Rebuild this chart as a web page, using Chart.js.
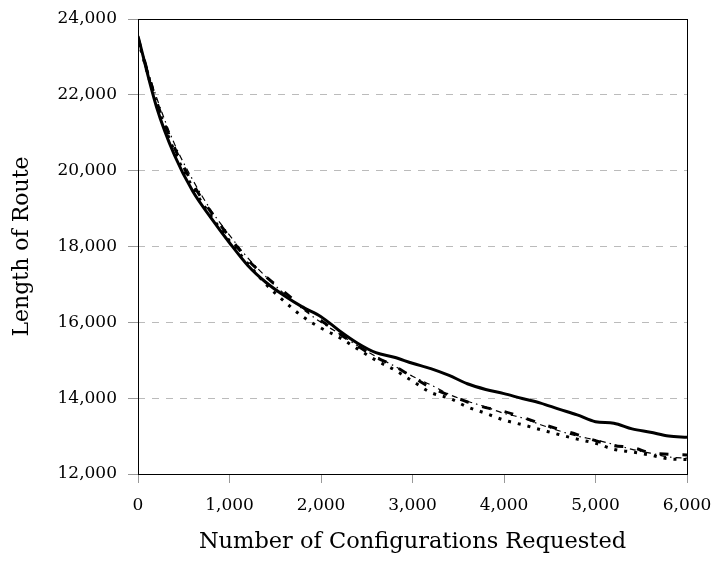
<!DOCTYPE html>
<html lang="en">
<head>
    <meta charset="UTF-8">
    <title>Length of Route</title>
    <script src="https://cdn.jsdelivr.net/npm/chart.js"></script>
    <style>
        body {
            margin: 0;
            padding: 0;
            background: #fff;
        }
        #wrap {
            width: 715px;
            height: 562px;
        }
    </style>
</head>
<body>
    <div id="wrap"><canvas id="chart" width="715" height="562"></canvas></div>

    <script>
        // x positions (configurations requested)
        const requested = [0, 200, 400, 600, 800, 1000, 1200, 1400, 1600, 1800, 2000,
            2200, 2400, 2600, 2800, 3000, 3200, 3400, 3600, 3800, 4000,
            4200, 4400, 4600, 4800, 5000, 5200, 5400, 5600, 5800, 6000];

        // route lengths
        const solidSeries = [23550, 21700, 20400, 19450, 18750, 18100, 17500, 17050, 16700, 16400, 16150,
            15780, 15450, 15200, 15080, 14920, 14780, 14600, 14380, 14230, 14120,
            13990, 13870, 13710, 13560, 13380, 13340, 13190, 13100, 13000, 12970];
        const dashedSeries = [23500, 21850, 20600, 19650, 18900, 18250, 17650, 17200, 16800, 16400, 16050,
            15700, 15380, 15080, 14850, 14560, 14280, 14080, 13900, 13750, 13650,
            13500, 13330, 13180, 13040, 12880, 12750, 12700, 12560, 12520, 12500];
        const dottedSeries = [23450, 21800, 20500, 19550, 18800, 18150, 17550, 17000, 16550, 16150, 15850,
            15600, 15300, 15000, 14750, 14450, 14150, 14000, 13770, 13600, 13420,
            13300, 13170, 13040, 12920, 12810, 12650, 12580, 12500, 12400, 12380];
        const dashDotSeries = [23500, 21950, 20700, 19750, 18950, 18300, 17700, 17200, 16750, 16350, 16000,
            15700, 15380, 15100, 14850, 14580, 14350, 14100, 13920, 13770, 13600,
            13480, 13300, 13140, 13000, 12900, 12780, 12650, 12550, 12450, 12420];

        const xTicks = [0, 1000, 2000, 3000, 4000, 5000, 6000];
        const yTicks = [12000, 14000, 16000, 18000, 20000, 22000, 24000];

        const serif = "'DejaVu Serif', serif";

        function toPoints(values) {
            return values.map((v, i) => ({ x: requested[i], y: v }));
        }

        // white background + black frame round the plot
        const frame = {
            id: 'frame',
            beforeDraw(chart) {
                const ctx = chart.ctx;
                ctx.save();
                ctx.fillStyle = '#fff';
                ctx.fillRect(0, 0, chart.width, chart.height);
                ctx.restore();
            },
            afterDraw(chart) {
                const a = chart.chartArea;
                const ctx = chart.ctx;
                ctx.save();
                ctx.strokeStyle = '#000';
                ctx.lineWidth = 1;
                ctx.strokeRect(Math.round(a.left) + 0.5, Math.round(a.top) + 0.5,
                    Math.round(a.right - a.left), Math.round(a.bottom - a.top));
                ctx.restore();
            }
        };

        const base = { pointRadius: 0, fill: false, tension: 0.3, cubicInterpolationMode: 'monotone', borderColor: '#000' };

        new Chart(document.getElementById('chart'), {
            type: 'line',
            data: {
                datasets: [
                    Object.assign({ label: 'solid', data: toPoints(solidSeries), borderWidth: 3 }, base),
                    Object.assign({ label: 'dashed', data: toPoints(dashedSeries), borderWidth: 3, borderDash: [9, 14] }, base),
                    Object.assign({ label: 'dotted', data: toPoints(dottedSeries), borderWidth: 3, borderDash: [3, 7] }, base),
                    Object.assign({ label: 'dash-dot', data: toPoints(dashDotSeries), borderWidth: 1.2, borderDash: [6, 4, 1.5, 4] }, base)
                ]
            },
            options: {
                responsive: false,
                animation: false,
                layout: { padding: { top: 19, right: 28, left: 0, bottom: 0 } },
                plugins: {
                    legend: { display: false },
                    tooltip: { enabled: false }
                },
                scales: {
                    x: {
                        type: 'linear',
                        min: 0,
                        max: 6000,
                        afterBuildTicks: s => { s.ticks = xTicks.map(v => ({ value: v })); },
                        afterFit: s => { s.height = 88; s.paddingLeft = 0; s.paddingRight = 0; },
                        border: { display: false },
                        grid: { drawOnChartArea: false, drawTicks: true, tickLength: 9, tickColor: '#999' },
                        ticks: {
                            color: '#000',
                            padding: 12,
                            maxRotation: 0,
                            font: { family: serif, size: 17 },
                            callback: v => v.toLocaleString('en-US')
                        },
                        title: {
                            display: true,
                            text: 'Number of Configurations Requested',
                            color: '#000',
                            font: { family: serif, size: 22.5 },
                            padding: { top: 0, bottom: 6 }
                        }
                    },
                    y: {
                        min: 12000,
                        max: 24000,
                        afterBuildTicks: s => { s.ticks = yTicks.map(v => ({ value: v })); },
                        afterFit: s => { s.width = 138; s.paddingTop = 0; s.paddingBottom = 0; },
                        border: { display: false, dash: [7, 7] },
                        grid: {
                            color: '#bbb',
                            lineWidth: 1,
                            tickBorderDash: [],
                            tickLength: 10,
                            tickColor: '#999'
                        },
                        ticks: {
                            color: '#000',
                            padding: 11,
                            font: { family: serif, size: 17 },
                            callback: v => v.toLocaleString('en-US')
                        },
                        title: {
                            display: true,
                            text: 'Length of Route',
                            color: '#000',
                            font: { family: serif, size: 22 },
                            padding: { top: 9, bottom: 0 }
                        }
                    }
                }
            },
            plugins: [frame]
        });
    </script>
</body>
</html>
